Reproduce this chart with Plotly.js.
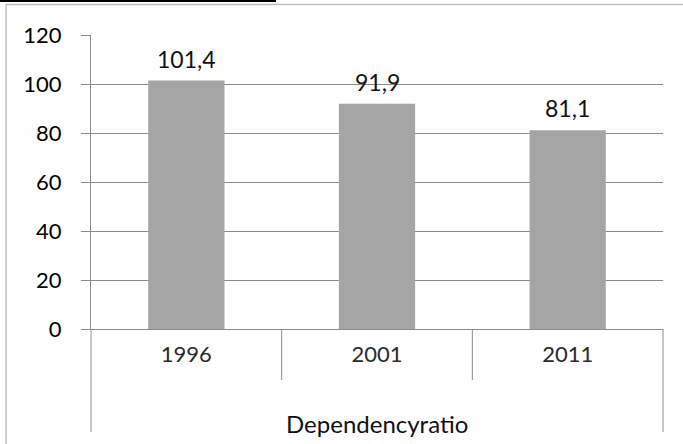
<!DOCTYPE html>
<html>
<head>
<meta charset="utf-8">
<script src="https://cdn.plot.ly/plotly-3.0.1.min.js"></script>
<style>html,body{margin:0;padding:0;background:#fff;}#chart{width:683px;height:444px;}</style>
</head>
<body>
<div id="chart"></div>
<script>
// Data
const years = ["1996", "2001", "2011"];
const ratios = [101.4, 91.9, 81.1];
const labels = ["101,4", "91,9", "81,1"];
const groupLabel = "Dependencyratio";
const yTicks = [0, 20, 40, 60, 80, 100, 120];

// Plot-area geometry (pixels) used to place decorative lines
const W = 683, H = 444;
const M = {l: 91, r: 20, t: 35, b: 115};
const pw = W - M.l - M.r, ph = H - M.t - M.b;
const px = x => (x - M.l) / pw;
const py = y => (H - M.b - y) / ph;
const xOf = i => (i + 0.5) / years.length;   // category centre in paper units

const gridColor = '#8c8c8c';
const fontFam = 'Lato, "Liberation Sans", sans-serif';

const trace = {
  type: 'bar',
  x: years,
  y: ratios,
  marker: {color: '#a5a5a5'},
  hoverinfo: 'none'
};

const shapes = [];
// separators between / around categories
for (let i = 0; i <= years.length; i++) {
  const outer = (i === 0 || i === years.length);
  shapes.push({type: 'line', xref: 'paper', yref: 'paper', x0: i / years.length, x1: i / years.length,
    y0: 0, y1: outer ? py(432) : py(380), line: {color: gridColor, width: 1}});
}
// chart outer border (left and top)
shapes.push({type: 'line', xref: 'paper', yref: 'paper', x0: px(6), x1: px(6), y0: py(4.5), y1: py(446),
  line: {color: '#bfbfbf', width: 1.5}});
shapes.push({type: 'line', xref: 'paper', yref: 'paper', x0: px(6), x1: px(690), y0: py(4.5), y1: py(4.5),
  line: {color: '#bfbfbf', width: 1.5}});
// black rule at top-left
shapes.push({type: 'line', xref: 'paper', yref: 'paper', x0: px(-2), x1: px(276), y0: py(1), y1: py(1),
  line: {color: '#000', width: 2}});

const annotations = years.map((yr, i) => ({
  x: xOf(i), y: ratios[i], xref: 'paper', yref: 'y', text: labels[i], showarrow: false,
  xanchor: 'center', yanchor: 'bottom', yshift: 6,
  font: {family: fontFam, size: 23, color: '#111'}
}));
annotations.push({
  x: 0.5, y: py(423), xref: 'paper', yref: 'paper', text: groupLabel, showarrow: false,
  xanchor: 'center', yanchor: 'middle', font: {family: fontFam, size: 24, color: '#111'}
});

const layout = {
  width: W, height: H,
  margin: M,
  paper_bgcolor: '#fff', plot_bgcolor: '#fff',
  showlegend: false,
  bargap: 0.6,
  font: {family: fontFam},
  xaxis: {
    type: 'category',
    categoryarray: years, categoryorder: 'array',
    range: [-0.5, years.length - 0.5],
    showgrid: false, zeroline: false,
    showline: true, linecolor: gridColor, linewidth: 1,
    ticks: '',
    tickfont: {family: fontFam, size: 22, color: '#2a2a2a'},
    ticklabelstandoff: 6,
    fixedrange: true
  },
  yaxis: {
    range: [0, 120],
    tickvals: yTicks,
    ticktext: yTicks.map(String),
    showgrid: true, gridcolor: gridColor, gridwidth: 1,
    zeroline: false,
    showline: true, linecolor: gridColor, linewidth: 1,
    ticks: 'outside', ticklen: 9, tickcolor: gridColor,
    tickfont: {family: fontFam, size: 22, color: '#000'},
    ticklabelstandoff: 15,
    fixedrange: true
  },
  shapes: shapes,
  annotations: annotations
};

Plotly.newPlot('chart', [trace], layout, {displayModeBar: false, staticPlot: true});
</script>
</body>
</html>
